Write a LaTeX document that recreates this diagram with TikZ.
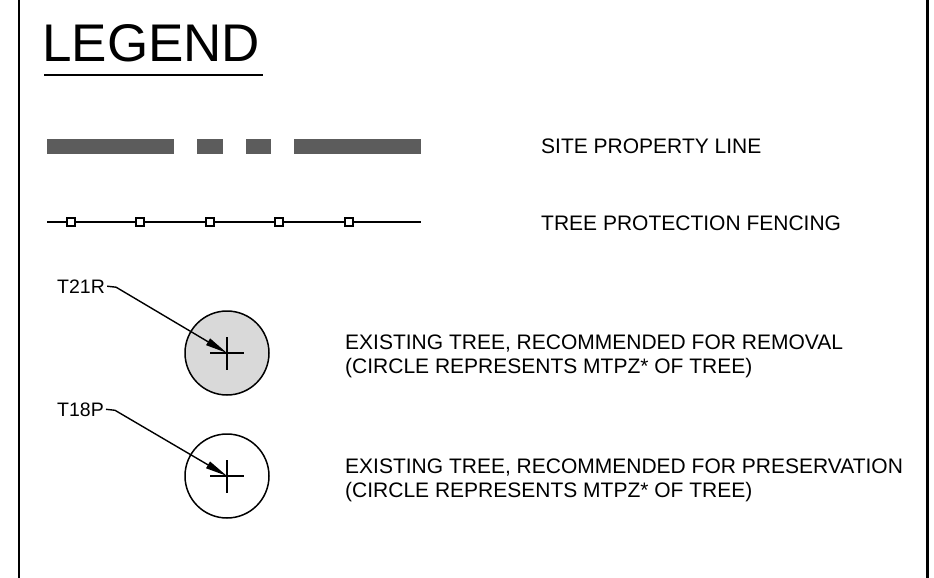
\documentclass[tikz,border=0pt]{standalone}
\usepackage{fontspec}
\setmainfont{Liberation Sans}
\usetikzlibrary{arrows.meta}
\begin{document}
\begin{tikzpicture}[x=1pt,y=-1pt,
  label/.style={font=\fontsize{21}{25}\selectfont, inner sep=0pt, anchor=base west},
  tag/.style={font=\fontsize{19.5}{23}\selectfont, inner sep=0pt, anchor=base west},
  propseg/.style={fill=black!64, draw=none},
  fencepost/.style={draw=black, line width=2pt, fill=white, minimum size=8.5pt, inner sep=0pt, rectangle},
  tree/.style={draw=black, line width=1.5pt, circle, minimum size=84pt, inner sep=0pt},
  leader/.style={line width=1.4pt, -{Triangle[length=22pt,width=7.5pt]}},
  crossbar/.style={line width=1.2pt}]
\useasboundingbox (0,0) rectangle (934,578);

% frame sides
\draw[line width=2pt] (19,0) -- (19,578);
\draw[line width=3pt] (927,0) -- (927,578);

% title
\node[font=\fontsize{53}{60}\selectfont, inner sep=0pt, anchor=base west] (title) at (42,62) {LEGEND};
\draw[line width=2.2pt] (44,75) -- (263,75);

% site property line symbol
\fill[propseg] (47,139) rectangle (174,154);
\fill[propseg] (197,139) rectangle (223,154);
\fill[propseg] (246,139) rectangle (271,154);
\fill[propseg] (294,139) rectangle (421,154);
\node[label] (prop) at (541,153) {SITE PROPERTY LINE};

% tree protection fencing symbol
\coordinate (fa) at (47,222);
\coordinate (fb) at (421,222);
\draw[line width=2pt] (fa) -- (fb);
\foreach \x/\n in {71/1,140/2,210/3,279/4,349/5}
  \node[fencepost] (post\n) at (\x,222) {};
\node[label] (fence) at (541,230) {TREE PROTECTION FENCING};

% tree recommended for removal
\node[tree, fill=black!15] (t21) at (227,353) {};
\draw[crossbar] (210,353) -- (244,353) (227,337) -- (227,370);
\node[tag] (t21lbl) at (57,293) {T21R};
\draw[leader] (t21lbl.east) ++(2pt,0pt) coordinate (t21a) -- ++(9pt,-1pt) -- (t21.center);
\node[label] (rem1) at (345,349) {EXISTING TREE, RECOMMENDED FOR REMOVAL};
\node[label] (rem2) at (345,373) {(CIRCLE REPRESENTS MTPZ* OF TREE)};

% tree recommended for preservation
\node[tree, fill=white] (t18) at (227,476) {};
\draw[crossbar] (210,476) -- (244,476) (227,460) -- (227,493);
\node[tag] (t18lbl) at (57,416) {T18P};
\draw[leader] (t18lbl.east) ++(2pt,0pt) coordinate (t18a) -- ++(9pt,-1pt) -- (t18.center);
\node[label] (pre1) at (345,473) {EXISTING TREE, RECOMMENDED FOR PRESERVATION};
\node[label] (pre2) at (345,497) {(CIRCLE REPRESENTS MTPZ* OF TREE)};
\end{tikzpicture}
\end{document}
